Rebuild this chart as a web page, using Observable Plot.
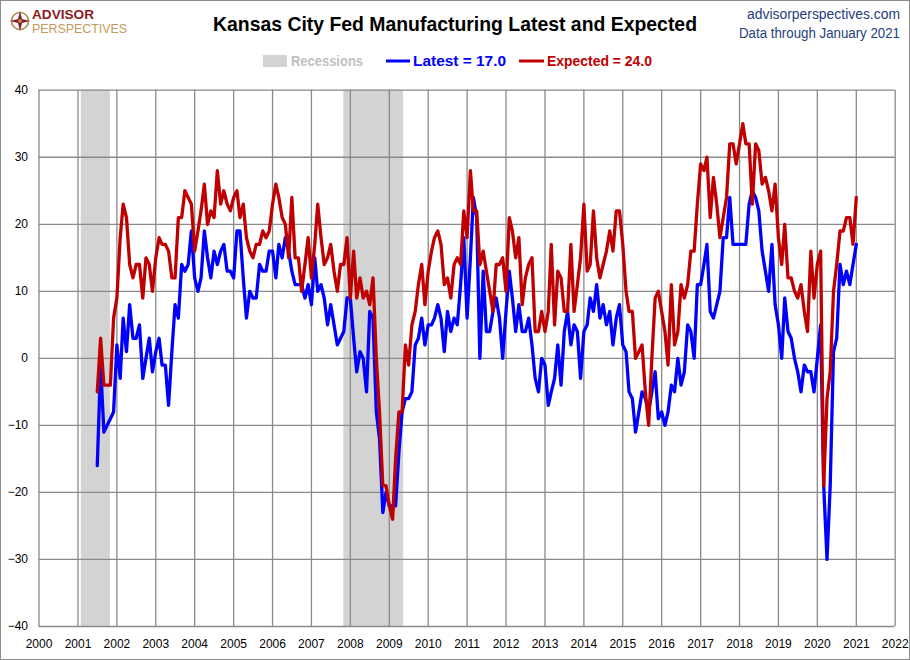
<!DOCTYPE html>
<html>
<head>
<meta charset="utf-8">
<script src="https://cdn.jsdelivr.net/npm/d3@7"></script>
<script src="https://cdn.jsdelivr.net/npm/@observablehq/plot@0.6"></script>
<style>
  html, body { margin: 0; padding: 0; background: #fff; }
  #wrap { position: relative; width: 910px; height: 660px; overflow: hidden; background: #fff; }
  #frame { position: absolute; left: 0; top: 0; width: 908px; height: 658px; border: 1px solid #8c8c8c; pointer-events: none; }
  #header { display: block; }
  #chart svg { display: block; }
</style>
</head>
<body>
<div id="wrap">
  <svg id="header" width="910" height="78" xmlns="http://www.w3.org/2000/svg" font-family="Liberation Sans, Arial, sans-serif">
    <g transform="translate(20,21)">
      <circle r="8.5" fill="none" stroke="#b08a50" stroke-width="1.6"/>
      <path d="M0,-10 L2,-2 L10,0 L2,2 L0,10 L-2,2 L-10,0 L-2,-2 Z" fill="#8b1c24"/>
      <circle r="2" fill="#b08a50"/>
    </g>
    <text x="32" y="18.5" font-size="12" font-weight="bold" fill="#8b1c24" textLength="62" lengthAdjust="spacingAndGlyphs">ADVISOR</text>
    <text x="32" y="32.5" font-size="12" fill="#c49a5a" textLength="95" lengthAdjust="spacingAndGlyphs">PERSPECTIVES</text>
    <text x="455" y="31" text-anchor="middle" font-size="21" font-weight="bold" fill="#000" textLength="484" lengthAdjust="spacingAndGlyphs">Kansas City Fed Manufacturing Latest and Expected</text>
    <text x="900" y="19" text-anchor="end" font-size="14" fill="#1f3e7a" textLength="153" lengthAdjust="spacingAndGlyphs">advisorperspectives.com</text>
    <text x="900" y="38" text-anchor="end" font-size="14" fill="#1f3e7a" textLength="161" lengthAdjust="spacingAndGlyphs">Data through January 2021</text>
    <rect x="263" y="55" width="24" height="12" fill="#d3d3d3"/>
    <text x="291" y="66" font-size="14" font-weight="bold" fill="#bfbfbf" textLength="72" lengthAdjust="spacingAndGlyphs">Recessions</text>
    <line x1="386" x2="410" y1="61" y2="61" stroke="#0000ff" stroke-width="3"/>
    <text x="413" y="66" font-size="14" font-weight="bold" fill="#0000ff" textLength="93" lengthAdjust="spacingAndGlyphs">Latest = 17.0</text>
    <line x1="519" x2="544" y1="61" y2="61" stroke="#c00000" stroke-width="3"/>
    <text x="547" y="66" font-size="14" font-weight="bold" fill="#c00000" textLength="105" lengthAdjust="spacingAndGlyphs">Expected = 24.0</text>
  </svg>
  <div id="chart"></div>
  <div id="frame"></div>
</div>
<script>
// ---- data ----
const startMonth = "2001-07";          // first monthly observation
const latest = [
  -16, -1, -11, -10, -9, -8,                       // 2001 Jul-Dec
  2, -3, 6, 1, 8, 3, 3, 5, -3, 0, 3, -2,           // 2002
  1, 3, -1, -1, -7, 1, 8, 6, 14, 13, 14, 19,       // 2003
  12, 10, 12, 19, 15, 12, 16, 14, 16, 17, 13, 13,  // 2004
  12, 19, 19, 12, 6, 10, 9, 9, 14, 13, 13, 16,     // 2005
  16, 12, 17, 15, 18, 16, 13, 11, 11, 11, 9, 11,   // 2006
  8, 15, 10, 11, 9, 5, 8, 5, 2, 3, 4, 9,           // 2007
  9, 3, -2, 1, 0, -5, 7, 6, -8, -12, -23, -20,     // 2008
  -22, -22, -22, -14, -8, -6, -6, -5, 2, 3, 6, 2,  // 2009
  5, 5, 6, 8, 6, 1, 7, 4, 6, 5, 11, 18,            // 2010
  6, 15, 24, 21, 0, 13, 4, 4, 7, 9, 6, 0,          // 2011
  7, 13, 9, 4, 8, 4, 4, 6, 2, -3, -5, 0,           // 2012
  -1, -7, -5, -3, 2, -4, 4, 7, 2, 5, 4, -3,        // 2013
  4, 5, 9, 7, 11, 6, 8, 5, 7, 2, 6, 8,             // 2014
  2, 1, -5, -6, -11, -8, -5, -6, -8, -5, -2, -9,   // 2015
  -8, -10, -8, -4, -5, 0, -4, -2, 5, 4, 0, 11,     // 2016
  11, 14, 17, 7, 6, 8, 10, 18, 18, 24, 17, 17,     // 2017
  17, 17, 17, 23, 25, 24, 22, 16, 13, 10, 17, 8,   // 2018
  5, 0, 9, 4, 3, 0, -2, -5, -1, -2, -2, -5,        // 2019
  0, 5, -19, -30, -19, 1, 3, 14, 11, 13, 11, 14,   // 2020
  17                                               // 2021 Jan
];
const expected = [
  -5, 3, -4, -4, -4, 6,                            // 2001 Jul-Dec
  9, 18, 23, 21, 14, 12, 14, 14, 9, 15, 14, 10,    // 2002
  15, 18, 17, 17, 16, 12, 12, 21, 21, 25, 24, 23,  // 2003
  16, 19, 22, 26, 20, 22, 21, 28, 23, 25, 23, 22,  // 2004
  24, 25, 21, 23, 18, 16, 15, 17, 17, 19, 18, 19,  // 2005
  23, 26, 24, 21, 20, 15, 24, 15, 15, 10, 14, 18,  // 2006
  12, 17, 23, 18, 14, 15, 17, 13, 10, 14, 14, 18,  // 2007
  9, 16, 9, 12, 9, 10, 8, 12, 0, -8, -19, -19,     // 2008
  -22, -24, -15, -8, -8, 2, -1, 5, 7, 11, 14, 8,   // 2009
  13, 16, 18, 19, 17, 11, 12, 9, 14, 15, 14, 22,   // 2010
  18, 28, 22, 22, 14, 16, 13, 10, 7, 14, 14, 15,   // 2011
  10, 21, 19, 15, 18, 8, 12, 14, 15, 4, 4, 7,      // 2012
  4, 7, 17, 5, 13, 12, 7, 7, 17, 7, 11, 15,        // 2013
  23, 13, 14, 22, 15, 12, 14, 16, 19, 16, 22, 22,  // 2014
  17, 10, 7, 7, 0, 1, 2, -5, -10, 0, 9, 10,        // 2015
  7, 4, -1, 11, 2, 4, 11, 9, 11, 16, 16, 23,       // 2016
  29, 28, 30, 21, 27, 23, 18, 21, 24, 32, 32, 29,  // 2017
  32, 35, 32, 32, 23, 32, 31, 26, 27, 25, 22, 26,  // 2018
  18, 14, 20, 12, 12, 10, 9, 11, 7, 4, 16, 9,      // 2019
  14, 16, -19, -6, -2, 10, 14, 19, 19, 21, 21, 17, // 2020
  24                                               // 2021 Jan
];
const recessionStarts = ["2001-02-01", "2007-11-01"];
const recessionEnds   = ["2001-11-01", "2009-05-15"];
const years = [2000, 2001, 2002, 2003, 2004, 2005, 2006, 2007, 2008, 2009, 2010,
               2011, 2012, 2013, 2014, 2015, 2016, 2017, 2018, 2019, 2020, 2021, 2022];
const yTicks = [-40, -30, -20, -10, 0, 10, 20, 30, 40];

// ---- build tables ----
const t0 = d3.utcParse("%Y-%m")(startMonth);
const rows = latest.map((v, i) => ({
  date: d3.utcMonth.offset(t0, i),
  latest: v,
  expected: expected[i]
}));
const recessions = recessionStarts.map((s, i) => ({
  start: d3.utcParse("%Y-%m-%d")(s),
  end: d3.utcParse("%Y-%m-%d")(recessionEnds[i])
}));
const yearDates = years.map(y => new Date(Date.UTC(y, 0, 1)));

const grid = "#8a8a8a";
const chart = Plot.plot({
  width: 910,
  height: 582,
  marginTop: 11.7,
  marginBottom: 34,
  marginLeft: 38.5,
  marginRight: 15.3,
  style: { fontFamily: "Liberation Sans, Arial, sans-serif", fontSize: "12px", color: "#000", background: "#fff" },
  x: {
    type: "utc",
    domain: [yearDates[0], yearDates[yearDates.length - 1]],
    ticks: yearDates,
    tickFormat: d3.utcFormat("%Y"),
    tickSize: 0,
    tickPadding: 13,
    label: null
  },
  y: {
    domain: [-40, 40],
    ticks: yTicks,
    tickSize: 0,
    tickPadding: 11,
    label: null
  },
  marks: [
    Plot.rect(recessions, { x1: "start", x2: "end", fill: "#d3d3d3" }),
    Plot.ruleX(yearDates, { stroke: grid, strokeWidth: 1.3 }),
    Plot.ruleY(yTicks, { stroke: grid, strokeWidth: 1.3 }),
    Plot.line(rows, { x: "date", y: "latest", stroke: "#0000ff", strokeWidth: 3.3, strokeLinejoin: "round", strokeLinecap: "round" }),
    Plot.line(rows, { x: "date", y: "expected", stroke: "#c00000", strokeWidth: 3.3, strokeLinejoin: "round", strokeLinecap: "round" })
  ]
});
document.getElementById("chart").appendChild(chart);
</script>
</body>
</html>
